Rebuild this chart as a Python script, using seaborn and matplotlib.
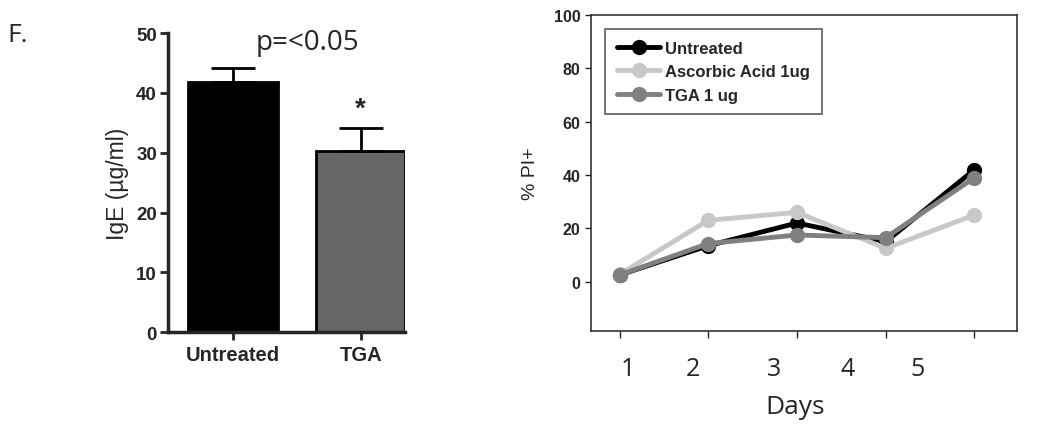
import numpy as np
import pandas as pd
import matplotlib
matplotlib.use("Agg")
import matplotlib.pyplot as plt
import seaborn as sns

# left panel: IgE bars
groups = ["Untreated", "TGA"]
ige_mean = [41.8, 30.3]
ige_err = [2.3, 3.8]
bar_colors = ["#000000", "#666666"]

# right panel: % PI+ over days
days = [1, 2, 3, 4, 5]
untreated = [2.5, 13.5, 22.0, 15.0, 42.0]
ascorbic = [2.7, 23.0, 26.0, 12.5, 25.0]
tga = [2.5, 14.3, 17.5, 16.5, 39.0]
series_names = ["Untreated", "Ascorbic Acid 1ug", "TGA 1 ug"]
line_colors = ["#000000", "#c8c8c8", "#808080"]
day_labels = ["1", "2", "3", "4", "5"]
day_label_pos = [1.09, 1.83, 2.74, 3.57, 4.36]

sns.set_style("ticks")
plt.rcParams['font.family'] = ['Liberation Sans', 'DejaVu Sans']
seg = ["Open Sans", "DejaVu Sans"]

fig = plt.figure(figsize=(10.5, 4.27), dpi=100)

# ---- left bar chart
ax1 = fig.add_axes([0.16, 0.22, 0.226, 0.70])
bar_df = pd.DataFrame({"group": groups, "IgE": ige_mean})
sns.barplot(data=bar_df, x="group", y="IgE", hue="group", palette=bar_colors,
            width=0.7, edgecolor="black", linewidth=2, legend=False, ax=ax1)
ax1.errorbar(range(len(groups)), ige_mean, yerr=[[0, 0], ige_err], fmt="none",
             ecolor="black", elinewidth=2, capsize=16, capthick=2, zorder=3)
ax1.set_ylim(0, 50)
ax1.set_xlim(-0.51, 1.35)
ax1.set_yticks([0, 10, 20, 30, 40, 50])
ax1.set_xlabel("")
ax1.set_ylabel("IgE (µg/ml)", fontsize=16.5, labelpad=5)
ax1.tick_params(axis="both", width=2, length=6, direction="out")
ax1.tick_params(axis="y", pad=2)
for lab in ax1.get_yticklabels():
    lab.set_fontweight("bold")
    lab.set_fontsize(13.5)
for lab in ax1.get_xticklabels():
    lab.set_fontweight("bold")
    lab.set_fontsize(14.5)
for s in ["left", "bottom"]:
    ax1.spines[s].set_linewidth(2.5)
sns.despine(ax=ax1)
ax1.text(1, 35.2, "*", ha="center", va="bottom", fontsize=20, fontweight="bold")
ax1.text(0.58, 48.6, "p=<0.05", ha="center", va="center", fontsize=20, family=seg)
fig.text(0.007, 0.918, "F.", fontsize=19, family=seg, va="center")

# ---- right line chart
ax2 = fig.add_axes([0.563, 0.2225, 0.4056, 0.74])
line_df = pd.DataFrame({
    "Day": days * 3,
    "PI": untreated + ascorbic + tga,
    "Group": np.repeat(series_names, len(days)),
})
sns.lineplot(data=line_df, x="Day", y="PI", hue="Group", palette=line_colors,
             marker="o", markersize=11, markeredgewidth=0, linewidth=3.5, ax=ax2)
ax2.set_xlim(0.68, 5.48)
ax2.set_ylim(-18.5, 100)
ax2.set_yticks([0, 20, 40, 60, 80, 100])
ax2.set_xticks(days, [""] * len(days))
ax2.set_xticks(day_label_pos, day_labels, minor=True)
ax2.tick_params(axis="x", which="minor", length=0, pad=18, labelsize=18)
ax2.tick_params(axis="x", which="major", length=5, width=1)
ax2.tick_params(axis="y", length=4, width=1)
for lab in ax2.get_xticklabels(minor=True):
    lab.set_family(seg)
for lab in ax2.get_yticklabels():
    lab.set_fontweight("bold")
    lab.set_fontsize(11.5)
ax2.set_xlabel("Days", fontsize=19, family=seg)
ax2.xaxis.set_label_coords(0.48, -0.2)
ax2.set_ylabel("% PI+", fontsize=14)
ax2.yaxis.set_label_coords(-0.122, 0.5)
for s in ax2.spines.values():
    s.set_linewidth(1.2)
    s.set_color("#333333")
leg = ax2.legend(loc="upper left", bbox_to_anchor=(0.033, 0.955), frameon=True,
                 fancybox=False, edgecolor="#333333", fontsize=12,
                 handlelength=2.6, handletextpad=0.3, labelspacing=0.5,
                 borderpad=0.7, borderaxespad=0)
leg.get_frame().set_linewidth(1.2)
for t in leg.get_texts():
    t.set_fontweight("bold")

fig.savefig("out.png", dpi=100)
